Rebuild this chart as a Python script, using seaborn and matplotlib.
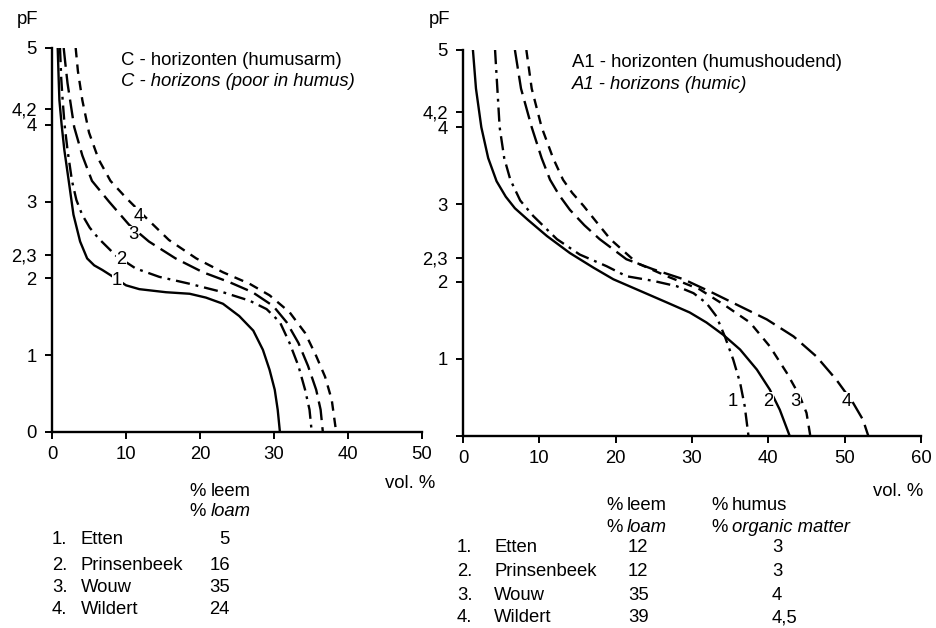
import numpy as np
import pandas as pd
import matplotlib
matplotlib.use("Agg")
import matplotlib.pyplot as plt
import seaborn as sns

# ---------------- data ----------------
# Left chart: C-horizons (poor in humus)
c1_x = [0.77, 0.9, 1.0, 1.3, 1.67, 2.26, 2.9, 3.8, 4.75, 5.7, 6.8, 8.6, 10.0, 11.8, 15.4, 18.6, 20.8, 23.1, 25.3, 27.2, 28.5, 29.4, 30.1, 30.5, 30.8]
c1_y = [5.0, 4.6, 4.32, 4.0, 3.67, 3.27, 2.83, 2.48, 2.26, 2.17, 2.11, 2.0, 1.91, 1.86, 1.82, 1.80, 1.75, 1.67, 1.51, 1.32, 1.07, 0.81, 0.55, 0.29, 0.0]
c2_x = [1.08, 1.25, 1.44, 1.7, 2.1, 2.7, 3.3, 4.07, 5.1, 6.3, 8.6, 11.3, 14.5, 18.6, 23.1, 26.7, 29.0, 30.8, 32.1, 33.3, 34.2, 34.8, 35.1]
c2_y = [5.0, 4.6, 4.32, 4.0, 3.67, 3.27, 3.02, 2.83, 2.66, 2.52, 2.30, 2.13, 2.02, 1.93, 1.82, 1.71, 1.60, 1.43, 1.16, 0.86, 0.55, 0.29, 0.0]
c3_x = [1.58, 1.8, 2.1, 3.0, 4.1, 5.4, 7.7, 10.4, 13.1, 16.7, 20.4, 24.0, 27.1, 29.9, 31.7, 33.3, 34.6, 35.7, 36.3, 36.6]
c3_y = [5.0, 4.8, 4.54, 3.97, 3.6, 3.27, 3.0, 2.70, 2.48, 2.26, 2.08, 1.95, 1.82, 1.64, 1.43, 1.16, 0.86, 0.55, 0.29, 0.0]
c4_x = [3.2, 3.5, 4.1, 5.0, 6.3, 7.9, 10.0, 12.7, 15.8, 19.5, 23.1, 26.7, 29.4, 32.1, 34.2, 35.7, 36.9, 37.8, 38.4]
c4_y = [5.0, 4.7, 4.32, 3.9, 3.55, 3.27, 3.05, 2.79, 2.50, 2.26, 2.08, 1.93, 1.78, 1.56, 1.29, 0.99, 0.72, 0.42, 0.0]

# Right chart: A1-horizons (humic)
a1_x = [4.2, 4.5, 4.8, 5.4, 6.2, 7.5, 9.2, 12.3, 15.3, 18.8, 21.4, 24.9, 28.0, 30.2, 31.9, 33.2, 34.3, 35.4, 36.3, 36.9, 37.4]
a1_y = [5.0, 4.5, 4.0, 3.6, 3.32, 3.05, 2.85, 2.55, 2.35, 2.20, 2.07, 2.01, 1.94, 1.85, 1.72, 1.55, 1.29, 0.99, 0.69, 0.39, 0.0]
a2_x = [1.3, 1.7, 2.4, 3.3, 4.4, 5.6, 6.8, 8.5, 11.0, 14.0, 17.1, 19.7, 23.2, 26.7, 29.7, 31.9, 34.1, 36.3, 38.5, 40.2, 41.5, 42.8]
a2_y = [5.0, 4.5, 4.0, 3.6, 3.3, 3.1, 2.95, 2.8, 2.59, 2.37, 2.18, 2.03, 1.88, 1.73, 1.60, 1.47, 1.31, 1.12, 0.86, 0.60, 0.34, 0.0]
a3_x = [8.3, 9.0, 10.3, 11.8, 13.1, 14.3, 15.8, 17.5, 19.3, 22.8, 26.7, 31.0, 34.5, 37.6, 40.2, 42.4, 44.1, 45.0, 45.5]
a3_y = [5.0, 4.5, 4.0, 3.6, 3.32, 3.15, 2.98, 2.77, 2.55, 2.24, 2.07, 1.90, 1.68, 1.47, 1.16, 0.82, 0.52, 0.30, 0.0]
a4_x = [6.8, 7.6, 9.0, 10.3, 11.4, 12.6, 14.0, 15.9, 17.9, 21.4, 24.9, 28.9, 32.8, 36.3, 39.8, 43.3, 46.3, 48.9, 51.1, 52.4, 53.1]
a4_y = [5.0, 4.5, 4.0, 3.6, 3.32, 3.12, 2.93, 2.73, 2.55, 2.29, 2.16, 2.03, 1.85, 1.68, 1.51, 1.29, 1.03, 0.73, 0.43, 0.21, 0.0]

curve_ids = ["1", "2", "3", "4"]
sites = ["Etten", "Prinsenbeek", "Wouw", "Wildert"]
left_loam = ["5", "16", "35", "24"]
right_loam = ["12", "12", "35", "39"]
right_humus = ["3", "3", "4", "4,5"]

left_xticks = [0, 10, 20, 30, 40, 50]
right_xticks = [0, 10, 20, 30, 40, 50, 60]
yticks = [0, 1, 2, 2.3, 3, 4, 4.2, 5]
left_ylabels = ["0", "1", "2", "2,3", "3", "4", "4,2", "5"]
right_ylabels = ["", "1", "2", "2,3", "3", "4", "4,2", "5"]

left_title = ["C - horizonten (humusarm)", "C - horizons (poor in humus)"]
right_title = ["A1 - horizonten (humushoudend)", "A1 - horizons (humic)"]

# ---------------- style ----------------
sns.set_theme(style="ticks")
plt.rcParams["font.family"] = ["Liberation Sans", "DejaVu Sans"]
plt.rcParams["axes.edgecolor"] = "black"
plt.rcParams["xtick.color"] = "black"
plt.rcParams["ytick.color"] = "black"
plt.rcParams["text.color"] = "black"
FS = 13.3

fig = plt.figure(figsize=(9.36, 6.28), dpi=100)
W, H = 936.0, 628.0
ax1 = fig.add_axes([52 / W, 1 - 432 / H, 370 / W, 384 / H])
ax2 = fig.add_axes([463 / W, 1 - 436 / H, 458 / W, 386 / H])

def make_df(xs, ys):
    rows = []
    for cid, x, y in zip(curve_ids, xs, ys):
        for xi, yi in zip(x, y):
            rows.append({"x": xi, "pF": yi, "curve": cid})
    return pd.DataFrame(rows)

solid = ""
dashdot = (6, 2.5, 1.2, 2.5)
longdash = (8, 3)
shortdash = (4, 3)

df_left = make_df([c1_x, c2_x, c3_x, c4_x], [c1_y, c2_y, c3_y, c4_y])
df_right = make_df([a1_x, a2_x, a3_x, a4_x], [a1_y, a2_y, a3_y, a4_y])

sns.lineplot(data=df_left, x="x", y="pF", style="curve",
             dashes={"1": solid, "2": dashdot, "3": longdash, "4": shortdash},
             color="black", lw=1.7, sort=False, estimator=None, legend=False, ax=ax1)
sns.lineplot(data=df_right, x="x", y="pF", style="curve",
             dashes={"1": dashdot, "2": solid, "3": shortdash, "4": longdash},
             color="black", lw=1.7, sort=False, estimator=None, legend=False, ax=ax2)

for ax, xmax, xt, yl in [(ax1, 50, left_xticks, left_ylabels), (ax2, 60, right_xticks, right_ylabels)]:
    ax.set_xlim(0, xmax)
    ax.set_ylim(0, 5)
    ax.set_xticks(xt)
    ax.set_xticklabels([str(v) for v in xt], fontsize=FS)
    ax.set_yticks(yticks)
    ax.set_yticklabels(yl, fontsize=FS)
    ax.set_xlabel("")
    ax.set_ylabel("")
    for s in ["top", "right"]:
        ax.spines[s].set_visible(False)
    for s in ["left", "bottom"]:
        ax.spines[s].set_linewidth(1.7)
        ax.spines[s].set_color("black")
    ax.tick_params(axis="both", length=5, width=1.4, color="black")
    ax.tick_params(axis="x", pad=5)
    ax.tick_params(axis="y", pad=6)
    ax.set_facecolor("white")

# curve labels
lab_kw = dict(fontsize=FS, ha="center", va="center",
              bbox=dict(facecolor="white", edgecolor="none", pad=0.3))
for cid, (lx, ly) in zip(curve_ids, [(8.8, 1.97), (9.4, 2.24), (11.0, 2.57), (11.7, 2.81)]):
    ax1.text(lx, ly, cid, **lab_kw)
for cid, (lx, ly) in zip(curve_ids, [(35.4, 0.45), (40.0, 0.45), (43.6, 0.45), (50.3, 0.45)]):
    ax2.text(lx, ly, cid, **lab_kw)

# titles
ax1.text(9.35, 4.84, left_title[0], fontsize=FS, ha="left", va="center")
ax1.text(9.35, 4.56, left_title[1], fontsize=FS, ha="left", va="center", style="italic")
ax2.text(14.3, 4.84, right_title[0], fontsize=FS, ha="left", va="center")
ax2.text(14.3, 4.55, right_title[1], fontsize=FS, ha="left", va="center", style="italic")

def ft(px, py, s, **kw):
    fig.text(px / W, 1 - py / H, s, fontsize=FS, va="center", **kw)

# pF labels
ft(28, 20, "pF", ha="center")
ft(440, 20, "pF", ha="center")
# axis labels
ft(435, 483, "vol. %", ha="right")
ft(923, 492, "vol. %", ha="right")

# left legend table
ft(189, 492, "%", ha="left")
ft(211, 492, "leem", ha="left")
ft(189, 512, "%", ha="left")
ft(211, 512, "loam", ha="left", style="italic")
for i, (site, lv, yy) in enumerate(zip(sites, left_loam, [540, 565, 587, 609])):
    ft(52, yy, f"{i + 1}.", ha="left")
    ft(81, yy, site, ha="left")
    ft(230, yy, lv, ha="right")

# right legend table
ft(606, 506, "%", ha="left")
ft(627, 506, "leem", ha="left")
ft(606, 527, "%", ha="left")
ft(627, 527, "loam", ha="left", style="italic")
ft(711, 506, "%", ha="left")
ft(732, 506, "humus", ha="left")
ft(711, 527, "%", ha="left")
ft(732, 527, "organic matter", ha="left", style="italic")
for i, (site, lv, hv, yy) in enumerate(zip(sites, right_loam, right_humus, [548, 572, 596, 618])):
    ft(457, yy, f"{i + 1}.", ha="left")
    ft(494, yy, site, ha="left")
    ft(628, yy, lv, ha="left")
    ft(772, yy, hv, ha="left")

fig.savefig("out.png", dpi=100, facecolor="white")
